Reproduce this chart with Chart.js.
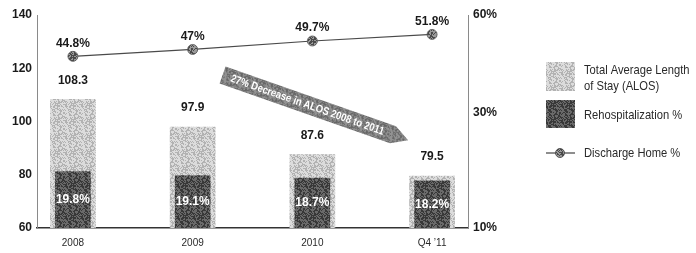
<!DOCTYPE html>
<html>
<head>
<meta charset="utf-8">
<script src="https://cdn.jsdelivr.net/npm/chart.js@4/dist/chart.umd.min.js"></script>
<style>
  html, body { margin: 0; padding: 0; background: #fff; }
  #wrap { width: 696px; height: 253px; }
</style>
</head>
<body>
<div id="wrap"><canvas id="chart" width="696" height="253"></canvas></div>
<script>
const categories = ['2008', '2009', '2010', 'Q4 \u201911'];
const alosDays = [108.3, 97.9, 87.6, 79.5];
const rehospPct = [19.8, 19.1, 18.7, 18.2];
const dischargeHomePct = [44.8, 47, 49.7, 51.8];
const leftTicks = [60, 80, 100, 120, 140];
const rightTicksLow = [10, 30];
const rightTicksHigh = [60];
const calloutText = '27% Decrease in ALOS 2008 to 2011';

const SANS = '"Liberation Sans", Arial, sans-serif';
const NUM_FONT = 'bold 12px ' + SANS;

// halftone-ish speckle texture (deterministic hash, no random)
function speckle(base, dot, density) {
  const cv = document.createElement('canvas');
  cv.width = cv.height = 16;
  const g = cv.getContext('2d');
  g.fillStyle = base;
  g.fillRect(0, 0, 16, 16);
  g.fillStyle = dot;
  for (let i = 0; i < 256; i++) {
    let h = Math.imul(i, 374761393) + 668265263;
    h = Math.imul(h ^ (h >>> 13), 1274126177);
    h = (h ^ (h >>> 16)) >>> 0;
    if ((h & 255) / 256 < density) g.fillRect(i % 16, i >> 4, 1, 1);
  }
  return g.createPattern(cv, 'repeat');
}

const lightFill = speckle('#dcdcdc', '#b2b2b2', 0.45);
const darkFill = speckle('#6a6a6a', '#383838', 0.5);
const dotFill = speckle('#9a9a9a', '#4a4a4a', 0.5);
const arrowFill = speckle('#929292', '#666', 0.45);

// value labels on bars and points
const valueLabels = {
  id: 'valueLabels',
  afterDatasetsDraw(chart) {
    const ctx = chart.ctx;
    const bottom = chart.chartArea.bottom;
    ctx.save();
    ctx.textAlign = 'center';
    ctx.textBaseline = 'middle';
    ctx.font = NUM_FONT;

    ctx.fillStyle = '#1a1a1a';
    chart.getDatasetMeta(2).data.forEach((el, i) => {
      ctx.fillText(alosDays[i].toFixed(1), el.x, el.y - 19);
    });
    chart.getDatasetMeta(0).data.forEach((el, i) => {
      ctx.fillText(dischargeHomePct[i] + '%', el.x, el.y - 13);
    });
    ctx.fillStyle = '#fff';
    chart.getDatasetMeta(1).data.forEach((el, i) => {
      ctx.fillText(rehospPct[i].toFixed(1) + '%', el.x, (el.y + Math.min(el.base, bottom)) / 2);
    });
    ctx.restore();
  }
};

// rotated arrow callout, anchored to the scales
const callout = {
  id: 'callout',
  afterDatasetsDraw(chart) {
    const { x, y } = chart.scales;
    const x0 = x.getPixelForValue(1.25), y0 = y.getPixelForValue(117.5);
    const x1 = x.getPixelForValue(2.8), y1 = y.getPixelForValue(93);
    const ang = Math.atan2(y1 - y0, x1 - x0);
    const len = Math.hypot(x1 - x0, y1 - y0);
    const h = 9;
    const ctx = chart.ctx;
    ctx.save();
    ctx.translate(x0, y0);
    ctx.rotate(ang);
    ctx.beginPath();
    ctx.moveTo(0, -h);
    ctx.lineTo(len - 16, -h);
    ctx.lineTo(len, 0);
    ctx.lineTo(len - 16, h);
    ctx.lineTo(0, h);
    ctx.closePath();
    ctx.fillStyle = arrowFill;
    ctx.fill();
    ctx.fillStyle = '#fff';
    ctx.font = 'bold 11px ' + SANS;
    ctx.textBaseline = 'middle';
    ctx.textAlign = 'left';
    ctx.scale(0.86, 1);
    ctx.fillText(calloutText, 9 / 0.86, 0.5);
    ctx.restore();
  }
};

// legend on the right
const sideLegend = {
  id: 'sideLegend',
  afterDraw(chart) {
    const ctx = chart.ctx;
    const lx = chart.chartArea.right + 78;
    const tx = lx + 38;
    ctx.save();
    ctx.fillStyle = lightFill;
    ctx.fillRect(lx, 62, 29, 29);
    ctx.fillStyle = darkFill;
    ctx.fillRect(lx, 100, 29, 28);

    ctx.strokeStyle = '#444';
    ctx.lineWidth = 1.2;
    ctx.beginPath();
    ctx.moveTo(lx, 153);
    ctx.lineTo(lx + 29, 153);
    ctx.stroke();
    ctx.beginPath();
    ctx.arc(lx + 14, 153, 4.5, 0, Math.PI * 2);
    ctx.fillStyle = dotFill;
    ctx.fill();
    ctx.lineWidth = 0.8;
    ctx.stroke();

    ctx.fillStyle = '#2a2a2a';
    ctx.font = '13px ' + SANS;
    ctx.textBaseline = 'middle';
    ctx.translate(tx, 0);
    ctx.scale(0.86, 1);
    ctx.fillText('Total Average Length', 0, 70);
    ctx.fillText('of Stay (ALOS)', 0, 86);
    ctx.fillText('Rehospitalization %', 0, 115);
    ctx.fillText('Discharge Home %', 0, 153);
    ctx.restore();
  }
};

const dottedBorder = { display: true, color: '#8a8a8a', width: 1, dash: [1, 1.5] };
const noGrid = { display: false, drawTicks: false };
const tickFont = { family: SANS, size: 12, weight: 'bold' };

new Chart(document.getElementById('chart'), {
  data: {
    datasets: [
      {
        type: 'line',
        label: 'Discharge Home %',
        data: dischargeHomePct.map((v, i) => ({ x: i, y: v })),
        yAxisID: 'yLine',
        borderColor: '#4a4a4a',
        borderWidth: 1.2,
        pointRadius: 5,
        pointBackgroundColor: dotFill,
        pointBorderColor: '#555',
        pointBorderWidth: 0.8,
        tension: 0,
        order: 1
      },
      {
        type: 'bar',
        label: 'Rehospitalization %',
        data: rehospPct.map((v, i) => ({ x: i, y: v })),
        yAxisID: 'yLow',
        backgroundColor: darkFill,
        barThickness: 35,
        grouped: false,
        order: 2
      },
      {
        type: 'bar',
        label: 'Total Average Length of Stay (ALOS)',
        data: alosDays.map((v, i) => ({ x: i, y: v })),
        yAxisID: 'y',
        backgroundColor: lightFill,
        barThickness: 45,
        grouped: false,
        order: 3
      }
    ]
  },
  options: {
    responsive: false,
    animation: false,
    layout: { padding: { top: 15, right: 188, left: 0, bottom: 0 } },
    plugins: {
      legend: { display: false },
      tooltip: { enabled: false }
    },
    scales: {
      x: {
        type: 'linear',
        offset: false,
        min: -0.3,
        max: 3.3,
        afterBuildTicks: (s) => { s.ticks = categories.map((_, i) => ({ value: i })); },
        afterFit: (s) => { s.height = 25; },
        grid: noGrid,
        border: { color: '#333', width: 1.5 },
        ticks: {
          callback: (v) => categories[v],
          color: '#2a2a2a',
          font: { family: SANS, size: 10 },
          padding: 9,
          maxRotation: 0
        }
      },
      y: {
        position: 'left',
        min: 60,
        max: 140,
        afterBuildTicks: (s) => { s.ticks = leftTicks.map((v) => ({ value: v })); },
        afterFit: (s) => { s.width = 37; },
        grid: noGrid,
        border: dottedBorder,
        ticks: { color: '#1a1a1a', font: tickFont, padding: 5 }
      },
      yHigh: {
        position: 'right',
        stack: 'right',
        stackWeight: 98,
        min: 30,
        max: 60,
        afterBuildTicks: (s) => { s.ticks = rightTicksHigh.map((v) => ({ value: v })); },
        afterFit: (s) => { s.width = 40; },
        grid: noGrid,
        border: dottedBorder,
        ticks: { callback: (v) => v + '%', color: '#1a1a1a', font: tickFont, padding: 5 }
      },
      yLow: {
        position: 'right',
        stack: 'right',
        stackWeight: 115,
        min: 10,
        max: 30,
        afterBuildTicks: (s) => { s.ticks = rightTicksLow.map((v) => ({ value: v })); },
        afterFit: (s) => { s.width = 40; },
        grid: noGrid,
        border: dottedBorder,
        ticks: { callback: (v) => v + '%', color: '#1a1a1a', font: tickFont, padding: 5 }
      },
      yLine: {
        display: false,
        min: -10,
        max: 58
      }
    }
  },
  plugins: [valueLabels, callout, sideLegend]
});
</script>
</body>
</html>
